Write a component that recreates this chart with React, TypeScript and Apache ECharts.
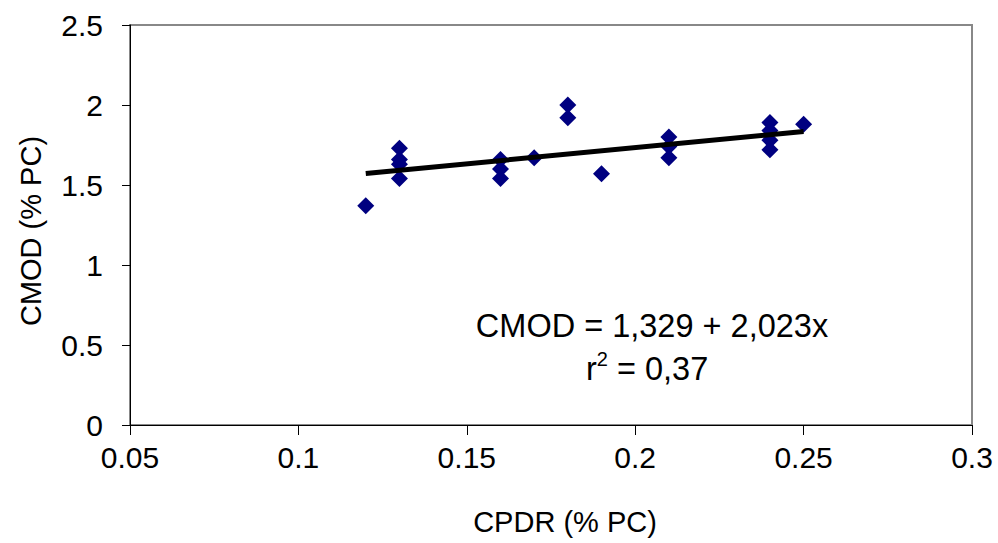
import React, { useEffect, useRef } from "react";
import * as echarts from "echarts";

const cpdr = [0.12, 0.13, 0.13, 0.13, 0.13, 0.16, 0.16, 0.16, 0.17, 0.18, 0.18, 0.19, 0.21, 0.21, 0.21, 0.24, 0.24, 0.24, 0.24, 0.25];
const cmod = [1.37, 1.73, 1.66, 1.63, 1.54, 1.66, 1.6, 1.54, 1.67, 2.0, 1.92, 1.57, 1.8, 1.74, 1.67, 1.89, 1.84, 1.78, 1.72, 1.88];
const intercept = 1.329;
const slope = 2.023;
const fitRange = [0.12, 0.25];
const eqText = "CMOD = 1,329 + 2,023x";
const r2Text = " = 0,37";

export default function App() {
  const ref = useRef<HTMLDivElement>(null);
  useEffect(() => {
    if (!ref.current) return;
    const chart = echarts.init(ref.current, null, { renderer: "svg" });
    const font = "'Liberation Sans', Arial, sans-serif";
    const points = cpdr.map((x, i) => [x, cmod[i]]);
    const fit = fitRange.map((x) => [x, intercept + slope * x]);
    chart.setOption({
      animation: false,
      backgroundColor: "#ffffff",
      grid: {
        left: 130,
        top: 25,
        right: 26,
        bottom: 118,
        show: true,
        borderColor: "#888888",
        borderWidth: 2,
      },
      xAxis: {
        type: "value",
        min: 0.05,
        max: 0.3,
        interval: 0.05,
        name: "CPDR (% PC)",
        nameLocation: "middle",
        nameGap: 82,
        nameTextStyle: { fontFamily: font, fontSize: 29, color: "#000", padding: [0, 0, 0, 28] },
        axisLine: { show: true, lineStyle: { color: "#000", width: 1 } },
        axisTick: { show: true, inside: false, length: 10, lineStyle: { color: "#000" } },
        axisLabel: {
          margin: 17,
          fontFamily: font,
          fontSize: 30,
          color: "#000",
          formatter: (v: number) => String(parseFloat(v.toFixed(2))),
        },
        splitLine: { show: false },
      },
      yAxis: {
        type: "value",
        min: 0,
        max: 2.5,
        interval: 0.5,
        name: "CMOD (% PC)",
        nameLocation: "middle",
        nameGap: 85,
        nameTextStyle: { fontFamily: font, fontSize: 29, color: "#000", padding: [0, 12, 0, 0] },
        axisLine: { show: true, lineStyle: { color: "#000", width: 1 } },
        axisTick: { show: true, inside: false, length: 8, lineStyle: { color: "#000" } },
        axisLabel: {
          margin: 27,
          fontFamily: font,
          fontSize: 30,
          color: "#000",
          formatter: (v: number) => String(parseFloat(v.toFixed(2))),
        },
        splitLine: { show: false },
      },
      series: [
        {
          type: "scatter",
          data: points,
          symbol: "diamond",
          symbolSize: 17,
          itemStyle: { color: "#000080", opacity: 1 },
          z: 2,
        },
        {
          type: "line",
          data: fit,
          symbol: "none",
          lineStyle: { color: "#000", width: 5 },
          z: 3,
        },
      ],
      graphic: [
        {
          type: "text",
          x: 652,
          y: 326,
          style: {
            text: eqText,
            align: "center",
            verticalAlign: "middle",
            fontFamily: font,
            fontSize: 32.5,
            fill: "#000",
          },
        },
        {
          type: "text",
          x: 586,
          y: 349,
          style: {
            text: "{a|r}{s|2}{a|" + r2Text + "}",
            fontFamily: font,
            rich: {
              a: { fontFamily: font, fontSize: 32.5, fill: "#000", verticalAlign: "bottom" },
              s: { fontFamily: font, fontSize: 20, fill: "#000", verticalAlign: "top", padding: [0, 0, 16, 0] },
            },
          },
        },
      ],
    });
    return () => chart.dispose();
  }, []);
  return <div ref={ref} style={{ width: 998, height: 543, position: "absolute", left: 0, top: 0 }} />;
}
